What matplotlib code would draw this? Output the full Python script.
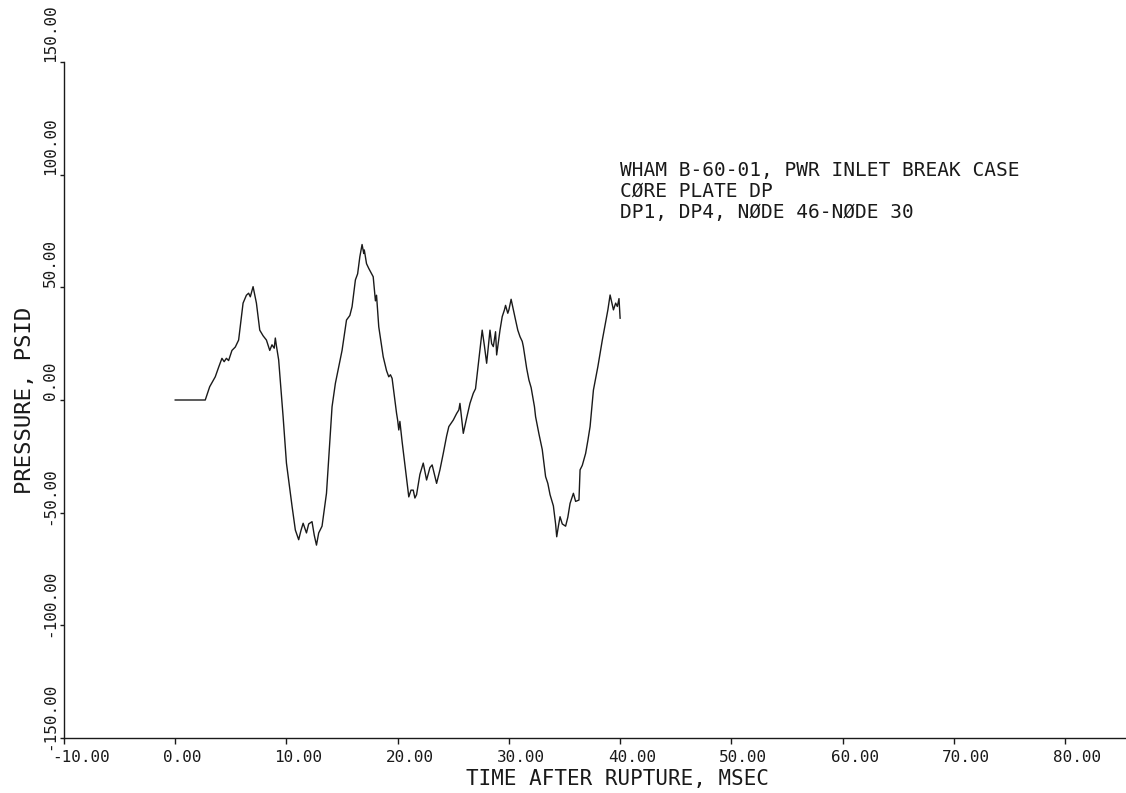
import numpy as np
import matplotlib.pyplot as plt
from matplotlib.transforms import ScaledTranslation

# core plate DP (node 46 - node 30)
t_ms = [0.0, 2.7, 3.1, 3.6, 3.9, 4.2, 4.4, 4.6, 4.8, 5.1,
        5.4, 5.7, 6.1, 6.4, 6.6, 6.75, 7.0, 7.3, 7.6, 7.9,
        8.2, 8.5, 8.7, 8.9, 9.0, 9.1, 9.3, 9.7, 10.0, 10.5,
        10.8, 11.1, 11.3, 11.5, 11.8, 12.0, 12.3, 12.5, 12.7, 12.9,
        13.2, 13.6, 14.1, 14.4, 15.0, 15.4, 15.7, 15.9, 16.2, 16.4,
        16.6, 16.8, 16.95, 17.0, 17.2, 17.4, 17.8, 18.0, 18.1, 18.3,
        18.7, 19.0, 19.2, 19.35, 19.5, 19.9, 20.0, 20.1, 20.2, 20.4,
        21.0, 21.2, 21.4, 21.55, 21.7, 22.0, 22.3, 22.6, 22.9, 23.1,
        23.5, 23.8, 24.1, 24.4, 24.6, 25.0, 25.3, 25.5, 25.6, 25.9,
        26.2, 26.5, 26.8, 27.0, 27.3, 27.6, 27.8, 28.0, 28.3, 28.45,
        28.6, 28.8, 28.9, 29.2, 29.4, 29.6, 29.7, 29.9, 30.0, 30.2,
        30.4, 30.6, 30.8, 31.0, 31.2, 31.3, 31.6, 31.8, 32.0, 32.2,
        32.3, 32.4, 32.7, 33.0, 33.3, 33.5, 33.7, 34.0, 34.2, 34.3,
        34.45, 34.6, 34.8, 35.1, 35.3, 35.5, 35.8, 36.0, 36.3, 36.4,
        36.6, 36.9, 37.1, 37.3, 37.6, 38.0, 38.4, 38.7, 38.9, 39.1,
        39.4, 39.6, 39.75, 39.9, 40.0]
dp_psid = [0.0, 0.0, 5.9, 10.3, 14.5, 18.5, 17.0, 18.5, 17.5, 22.0,
           23.5, 26.6, 43.0, 46.5, 47.4, 45.8, 50.3, 43.0, 31.0, 28.5,
           26.6, 22.0, 24.5, 23.0, 27.5, 24.0, 17.8, -7.4, -28.0, -47.0,
           -57.7, -62.0, -58.0, -54.7, -59.0, -55.0, -54.0, -60.0, -64.4, -59.0,
           -56.0, -41.4, -3.0, 7.4, 22.0, 35.5, 37.5, 41.4, 53.3, 56.0,
           63.6, 69.0, 65.0, 66.6, 60.5, 58.4, 54.7, 44.0, 46.5, 32.5,
           19.2, 13.0, 10.3, 11.2, 9.6, -5.9, -9.0, -13.3, -9.5, -18.5,
           -43.0, -40.0, -40.0, -43.5, -42.0, -33.0, -28.0, -35.5, -30.0, -28.8,
           -37.0, -31.0, -23.7, -16.0, -11.8, -8.9, -6.0, -4.4, -1.5, -14.8,
           -8.0, -1.5, 3.0, 5.0, 17.8, 31.0, 24.0, 16.3, 31.0, 25.0,
           23.7, 30.3, 20.0, 31.0, 37.0, 40.0, 42.0, 38.5, 40.0, 44.7,
           40.0, 35.5, 31.0, 28.1, 26.0, 23.7, 14.0, 8.9, 5.5, 0.0,
           -3.0, -7.4, -15.0, -22.0, -34.0, -37.0, -42.0, -47.0, -55.0, -60.7,
           -56.0, -51.8, -55.0, -56.0, -52.0, -45.9, -41.4, -45.0, -44.4, -31.0,
           -29.0, -23.7, -18.0, -11.8, 4.4, 14.8, 26.6, 34.8, 40.0, 46.6,
           40.0, 43.0, 41.5, 45.0, 36.3]

xticks = [-10, 0, 10, 20, 30, 40, 50, 60, 70, 80]
yticks = [-150, -100, -50, 0, 50, 100, 150]
title_lines = ["WHAM B-60-01, PWR INLET BREAK CASE",
               "CØRE PLATE DP",
               "DP1, DP4, NØDE 46-NØDE 30"]

plt.rcParams['font.family'] = 'DejaVu Sans Mono'
ink = '#1a1a1a'

fig = plt.figure(figsize=(11.26, 7.93), dpi=100)
ax = fig.add_axes([64 / 1126, 55 / 793, 1001 / 1126, 676 / 793])

ax.plot(t_ms, dp_psid, color=ink, lw=1.0)

ax.set_xlim(-10, 80)
ax.set_ylim(-150, 150)
for s in ['top', 'right', 'bottom']:
    ax.spines[s].set_visible(False)
ax.spines['left'].set_color(ink)
ax.spines['left'].set_linewidth(1.0)
# x axis runs the whole width of the sheet
ax.axhline(-150, xmin=0.0, xmax=1.07, color=ink, lw=1.0, clip_on=False)

ax.set_xticks(xticks, ['%.2f' % v for v in xticks])
ax.set_yticks(yticks, ['%.2f' % v for v in yticks], rotation=90)
ax.tick_params(axis='x', direction='out', length=4.5, width=1.0, color=ink,
               pad=4.5, labelsize=11.5, labelcolor=ink)
ax.tick_params(axis='y', direction='out', length=3, width=1.0, color=ink,
               pad=7, labelsize=11.5, labelcolor=ink)

for lab in ax.get_xticklabels():
    lab.set_horizontalalignment('left')
    lab.set_transform(lab.get_transform() +
                      ScaledTranslation(-12 / 100, 0, fig.dpi_scale_trans))
for v, lab in zip(yticks, ax.get_yticklabels()):
    lab.set_horizontalalignment('center')
    lab.set_verticalalignment('bottom')
    if v < 0:
        # the minus hangs below the tick
        lab.set_transform(lab.get_transform() +
                          ScaledTranslation(0, -12 / 100, fig.dpi_scale_trans))

ax.set_xlabel('TIME AFTER RUPTURE, MSEC', fontsize=15, color=ink)
ax.xaxis.set_label_coords(0.553, -0.046)
ax.set_ylabel('PRESSURE, PSID', fontsize=16, color=ink)
ax.yaxis.set_label_coords(-0.029, 0.50)

ax.text(40.0, 106, '\n'.join(title_lines), fontsize=14, color=ink,
        ha='left', va='top', linespacing=1.12)

fig.savefig('out.png', dpi=100)
